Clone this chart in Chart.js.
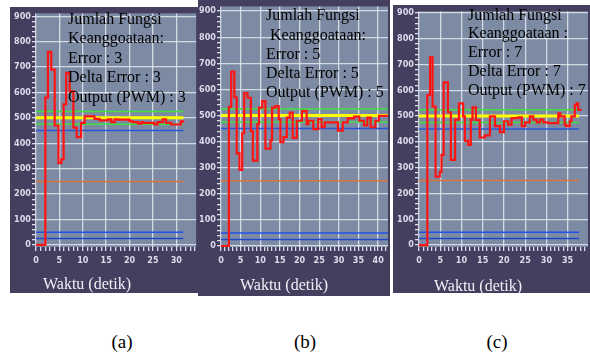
<!DOCTYPE html>
<html>
<head>
<meta charset="utf-8">
<script src="https://cdn.jsdelivr.net/npm/chart.js@4"></script>
<style>
  body { margin: 0; background: #fff; width: 590px; height: 355px; position: relative; overflow: hidden; }
  .panel { position: absolute; background: #443f5f; }
  .panel canvas { position: absolute; left: 0; top: 0; }
  .info { position: absolute; font-family: "Liberation Serif", "Times New Roman", serif; font-size: 16px; color: #000; white-space: pre; }
  .xlabel { position: absolute; font-family: "Liberation Serif", "Times New Roman", serif; font-size: 16px; color: #f0f0f6; white-space: pre; }
  .caption { position: absolute; top: 331px; width: 40px; text-align: center; font-family: "Liberation Serif", "Times New Roman", serif; font-size: 19px; color: #000; }
</style>
</head>
<body>
<div class="panel" id="panelA" style="left:10px;top:7px;width:189px;height:286px;"><canvas id="chartA" width="189" height="286"></canvas></div>
<div class="panel" id="panelB" style="left:198px;top:0px;width:192px;height:296px;"><canvas id="chartB" width="192" height="296"></canvas></div>
<div class="panel" id="panelC" style="left:393px;top:5px;width:197px;height:288px;"><canvas id="chartC" width="197" height="288"></canvas></div>

<div class="info" style="left:68px;top:8.5px;line-height:19.5px;" id="infoA"></div>
<div class="info" style="left:266px;top:5.4px;line-height:19.2px;" id="infoB"></div>
<div class="info" style="left:468px;top:5.5px;line-height:18.9px;" id="infoC"></div>

<div class="xlabel" style="left:43px;top:275px;">Waktu (detik)</div>
<div class="xlabel" style="left:240px;top:276px;">Waktu (detik)</div>
<div class="xlabel" style="left:434px;top:277px;">Waktu (detik)</div>

<div class="caption" style="left:102px;">(a)</div>
<div class="caption" style="left:285px;">(b)</div>
<div class="caption" style="left:477px;">(c)</div>

<script>
// reference lines (same in all three plots)
const refLevels = [500, 525, 475, 450, 250, 50, 25];
const refColors = ["#ffff00", "#3fe03f", "#3fe03f", "#2a55d8", "#d8763f", "#1f52ea", "#1f48c8"];

// (a) 3 membership functions
const timeA = [0, 2.0, 2.55, 3.26, 4.0, 4.8, 5.4, 5.9, 6.45, 7.2, 8.0, 8.7, 9.65, 10.4, 12.5, 13.6, 15.4, 16.1, 16.8, 17.5, 20.0, 20.7, 21.8, 22.5, 22.8, 25.3, 26.0, 27.1, 27.8, 28.9, 31.0, 31.7];
const pwmA = [0, 580, 760, 690, 470, 322, 337, 553, 677, 604, 462, 424, 480, 506, 496, 490, 494, 483, 494, 493, 486, 483, 477, 483, 480, 474, 483, 494, 480, 474, 486, 486];

// (b) 5 membership functions
const timeB = [0, 2.0, 2.6, 3.4, 4.0, 4.7, 5.4, 5.9, 6.75, 7.6, 8.1, 9.25, 9.67, 10.5, 11.3, 12.6, 13.0, 13.8, 14.7, 15.1, 15.9, 16.75, 17.5, 18.25, 19.3, 20.6, 21.8, 22.25, 23.5, 24.75, 25.6, 26.4, 29.75, 31.0, 32.25, 33.9, 35.2, 36.4, 37.25, 38.1, 39.3, 40.2, 42.5];
const pwmB = [0, 533, 668, 570, 355, 292, 432, 586, 568, 440, 327, 467, 530, 555, 373, 405, 530, 536, 486, 398, 417, 492, 511, 414, 480, 517, 467, 480, 448, 486, 455, 474, 442, 474, 489, 496, 480, 462, 492, 455, 480, 499, 499];

// (c) 7 membership functions
const timeC = [0, 1.96, 2.6, 3.2, 3.9, 4.9, 5.3, 5.8, 6.8, 7.5, 8.5, 9.4, 10.4, 10.8, 11.6, 12.2, 12.6, 13.4, 14.3, 15.5, 16.7, 17.9, 19.06, 20.0, 21.0, 21.8, 23.4, 24.2, 25.0, 26.1, 26.9, 27.7, 28.5, 29.3, 30.4, 32.8, 33.3, 34.3, 34.7, 35.5, 35.9, 36.7, 37.1, 37.5, 38.3];
const pwmC = [0, 581, 728, 537, 265, 284, 350, 631, 515, 330, 486, 549, 499, 404, 388, 486, 534, 485, 417, 425, 499, 461, 438, 480, 467, 492, 495, 461, 476, 499, 486, 476, 486, 476, 473, 511, 499, 467, 461, 480, 499, 543, 549, 524, 524];

const infoA = ["Jumlah Fungsi", "Keanggoataan:", "Error : 3", "Delta Error : 3", "Output (PWM) : 3"];
const infoB = ["Jumlah Fungsi", " Keanggoataan:", "Error : 5", "Delta Error : 5", "Output (PWM) : 5"];
const infoC = ["Jumlah Fungsi", "Keanggoataan :", "Error : 7", "Delta Error : 7", "Output (PWM) : 7"];

document.getElementById("infoA").textContent = infoA.join("\n");
document.getElementById("infoB").textContent = infoB.join("\n");
document.getElementById("infoC").textContent = infoC.join("\n");

const plotBackground = {
  id: "plotBackground",
  beforeDraw(chart) {
    const a = chart.chartArea;
    const ctx = chart.ctx;
    ctx.save();
    ctx.fillStyle = "#7c8ba3";
    ctx.fillRect(a.left, a.top, a.right - a.left, a.bottom - a.top);
    ctx.restore();
  }
};

const tickFont = { family: "'Liberation Sans Narrow', 'DejaVu Sans Condensed', sans-serif", size: 9, weight: "bold" };
const gridColor = "rgba(228, 231, 240, 0.85)";
const tickColor = "#dcdcec";

function createPanel(canvasId, times, pwm, refEnd, box) {
  let datasets = [{
    data: times.map((t, i) => ({ x: t, y: pwm[i] })),
    borderColor: "#ff1414",
    borderWidth: 2.2,
    stepped: true,
    pointRadius: 0,
    fill: false,
  }];
  refLevels.forEach((level, i) => {
    datasets.push({
      data: [{ x: 0, y: level }, { x: refEnd, y: level }],
      borderColor: refColors[i],
      borderWidth: i === 0 ? 3 : 1.5,
      pointRadius: 0,
      fill: false,
    });
  });

  return new Chart(document.getElementById(canvasId), {
    type: "line",
    plugins: [plotBackground],
    data: { datasets: datasets },
    options: {
      responsive: false,
      animation: false,
      layout: { padding: { top: box.padTop, right: box.padRight, left: 0, bottom: 0 } },
      plugins: { legend: { display: false }, tooltip: { enabled: false } },
      scales: {
        x: {
          type: "linear",
          min: 0,
          max: box.xMax,
          afterFit: (axis) => { axis.height = box.xAxisHeight; },
          border: { display: false },
          grid: {
            color: (ctx) => (ctx.tick && ctx.tick.value % 5 === 0 ? gridColor : "rgba(0,0,0,0)"),
            tickColor: tickColor,
            tickLength: 4,
            lineWidth: 1.3,
          },
          ticks: {
            stepSize: 1,
            autoSkip: false,
            maxRotation: 0,
            includeBounds: false,
            padding: 4,
            color: tickColor,
            font: tickFont,
            callback: (v) => (v % 5 === 0 ? v : ""),
          },
        },
        y: {
          min: box.yMin,
          max: box.yMax,
          afterFit: (axis) => { axis.width = box.yAxisWidth; },
          border: { display: false },
          grid: {
            color: (ctx) => (ctx.tick && ctx.tick.value % 100 === 0 ? gridColor : "rgba(0,0,0,0)"),
            tickColor: tickColor,
            tickLength: 4,
            lineWidth: 1.3,
          },
          ticks: {
            stepSize: 20,
            autoSkip: false,
            includeBounds: false,
            padding: 1,
            color: tickColor,
            font: tickFont,
            callback: (v) => (v % 100 === 0 ? v : ""),
          },
        },
      },
    },
  });
}

createPanel("chartA", timeA, pwmA, 31.5, { yAxisWidth: 26, xAxisHeight: 46, padTop: 0, padRight: 2, xMax: 34.25, yMin: -8, yMax: 911 });
createPanel("chartB", timeB, pwmB, 42.5, { yAxisWidth: 23, xAxisHeight: 49, padTop: 0, padRight: 0, xMax: 42.5, yMin: -3.7, yMax: 918 });
createPanel("chartC", timeC, pwmC, 37.7, { yAxisWidth: 26, xAxisHeight: 46, padTop: 0, padRight: 2, xMax: 39.8, yMin: -7.5, yMax: 906 });
</script>
</body>
</html>
